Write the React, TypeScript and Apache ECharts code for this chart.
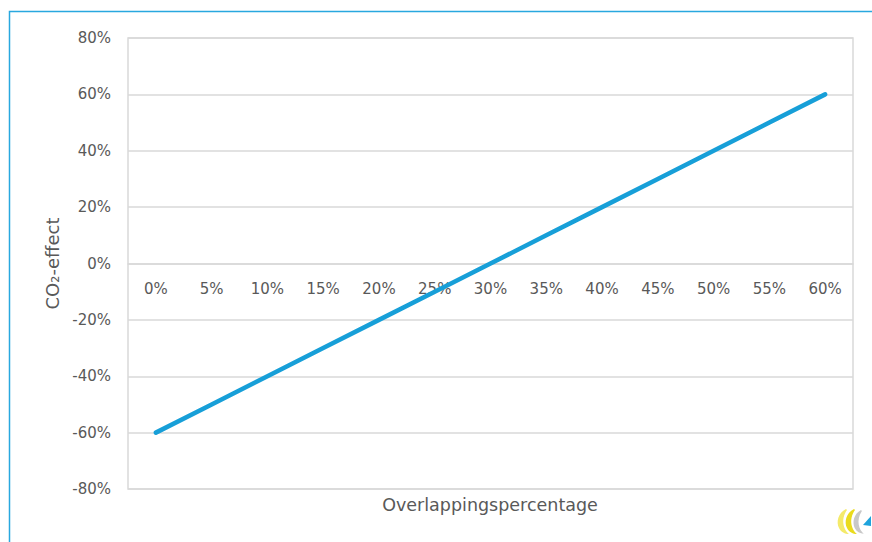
import React, { useEffect, useRef } from "react";
import * as echarts from "echarts";

const categories = ["0%", "5%", "10%", "15%", "20%", "25%", "30%", "35%", "40%", "45%", "50%", "55%", "60%"];
const co2Effect = [-0.6, -0.5, -0.4, -0.3, -0.2, -0.1, 0, 0.1, 0.2, 0.3, 0.4, 0.5, 0.6];
const yTicks = { min: -0.8, max: 0.8, interval: 0.2 };
const xAxisTitle = "Overlappingspercentage";
const yAxisTitle = "CO₂-effect";

const FONT = "'DejaVu Sans', sans-serif";

echarts.graphic.registerShape(
  "crescent",
  (echarts.graphic as any).extendPath(
    "M10 0 C2 4 0 13 3 19 C5 23 9 25 13 25 C8 21 4 11 11 1 Z",
    {}
  )
);

export default function App() {
  const ref = useRef<HTMLDivElement>(null);
  useEffect(() => {
    if (!ref.current) return;
    const chart = echarts.init(ref.current, undefined, { renderer: "svg" });
    chart.setOption({
      animation: false,
      backgroundColor: "#ffffff",
      grid: {
        left: 128,
        right: 19,
        top: 38,
        bottom: 53,
        show: true,
        borderColor: "#d9d9d9",
        borderWidth: 1.5,
        containLabel: false,
      },
      xAxis: {
        type: "category",
        data: categories,
        boundaryGap: true,
        offset: -225.5,
        axisLine: { show: true, onZero: false, lineStyle: { color: "#d9d9d9", width: 1.5 } },
        axisTick: { show: false },
        axisLabel: { color: "#595959", fontSize: 15, fontFamily: FONT, margin: 18, interval: 0 },
        splitLine: { show: false },
      },
      yAxis: {
        type: "value",
        min: yTicks.min,
        max: yTicks.max,
        interval: yTicks.interval,
        name: yAxisTitle,
        nameLocation: "middle",
        nameGap: 66,
        nameRotate: 90,
        nameTextStyle: { color: "#595959", fontSize: 18, fontFamily: FONT },
        axisLine: { show: false },
        axisTick: { show: false },
        axisLabel: {
          color: "#595959",
          fontSize: 15,
          fontFamily: FONT,
          margin: 17,
          formatter: (v: number) => `${Math.round(v * 100)}%`,
        },
        splitLine: { show: true, lineStyle: { color: "#d9d9d9", width: 1.5 } },
      },
      series: [
        {
          type: "line",
          data: co2Effect,
          symbol: "none",
          lineStyle: { color: "#179fd8", width: 4.5, cap: "round" },
        },
      ],
      graphic: [
        {
          type: "rect",
          shape: { x: 9.5, y: 11.5, width: 900, height: 600 },
          style: { fill: "none", stroke: "#29a8df", lineWidth: 1.5 },
          silent: true,
        },
        {
          type: "text",
          x: 490,
          y: 505,
          style: {
            text: xAxisTitle,
            fill: "#595959",
            fontSize: 17.5,
            fontFamily: FONT,
            textAlign: "center",
            textVerticalAlign: "middle",
          },
        },
        { type: "crescent", x: 836, y: 509, scaleX: 1, scaleY: 1, style: { fill: "#f4ea6a" } },
        { type: "crescent", x: 844, y: 509, scaleX: 1, scaleY: 1, style: { fill: "#eadb1c" } },
        { type: "crescent", x: 852, y: 510, scaleX: 0.9, scaleY: 0.95, style: { fill: "#c8c8c8" } },
        {
          type: "polygon",
          shape: { points: [[863, 525], [871, 516], [871, 526]] },
          style: { fill: "#1ea3dc" },
        },
      ],
    });
    return () => chart.dispose();
  }, []);
  return (
    <div
      ref={ref}
      style={{ position: "fixed", left: 0, top: 0, width: 872, height: 542 }}
    />
  );
}
